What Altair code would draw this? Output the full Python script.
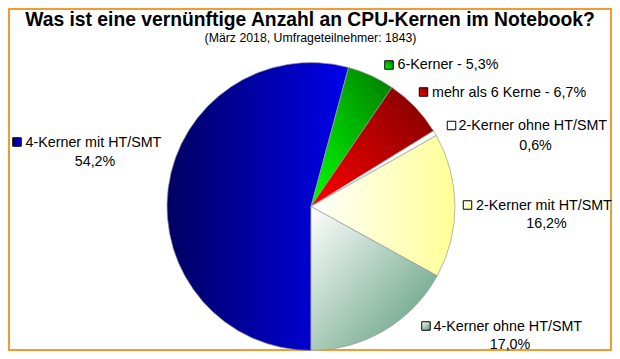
import math
import altair as alt
import pandas as pd

# ---- data ----
categories = [
    "4-Kerner mit HT/SMT",
    "6-Kerner",
    "mehr als 6 Kerne",
    "2-Kerner ohne HT/SMT",
    "2-Kerner mit HT/SMT",
    "4-Kerner ohne HT/SMT",
]
values = [54.2, 5.3, 6.7, 0.6, 16.2, 17.0]
single_line = ["6-Kerner", "mehr als 6 Kerne"]

title_text = "Was ist eine vernünftige Anzahl an CPU-Kernen im Notebook?"
subtitle_text = "(März 2018, Umfrageteilnehmer: 1843)"

df = pd.DataFrame({"cat": categories, "value": values})

# ---- styles ----
def lin(c0, c1, x1, y1, x2, y2):
    return {"gradient": "linear", "x1": x1, "y1": y1, "x2": x2, "y2": y2,
            "stops": [{"offset": 0, "color": c0}, {"offset": 1, "color": c1}]}

grads = {
    "4-Kerner mit HT/SMT": lin("#000062", "#0000EC", 0, 0, 1, 0),
    "6-Kerner": lin("#00FF00", "#007A00", 0, 1, 1, 0),
    "mehr als 6 Kerne": lin("#FF0000", "#7A0000", 0, 1, 1, 0),
    "2-Kerner ohne HT/SMT": lin("#FFFFFF", "#FFFFFF", 0, 0, 1, 0),
    "2-Kerner mit HT/SMT": lin("#FFFFFF", "#FFFF96", 0, 0, 1, 0),
    "4-Kerner ohne HT/SMT": lin("#FFFFFF", "#579877", 0, 0, 1, 1),
}

# label layout (chart pixel coords): square centre, text start, line y, 2nd line centre x / y
layout = {
    "4-Kerner mit HT/SMT": dict(sq=(9, 134), tx=17.5, ty=134.8, l2x=87, l2y=154.3),
    "6-Kerner": dict(sq=(381, 57), tx=389.5, ty=57.3),
    "mehr als 6 Kerne": dict(sq=(415.5, 84), tx=424, ty=84.8),
    "2-Kerner ohne HT/SMT": dict(sq=(443.5, 117.5), tx=450.5, ty=117.8, l2x=527.5, l2y=137.8),
    "2-Kerner mit HT/SMT": dict(sq=(459.5, 197), tx=468, ty=197.8, l2x=538.5, l2y=216.3),
    "4-Kerner ohne HT/SMT": dict(sq=(418, 318), tx=425.5, ty=318.8, l2x=502, l2y=336.8),
}

CX, CY, R = 303, 198.5, 144
FONT = "Liberation Sans"
FS = 14.3

theta_scale = alt.Scale(domain=[0, 100], range=[math.pi, 3 * math.pi])

base = alt.Chart(df).transform_window(
    cum="sum(value)", frame=[None, 0]
).transform_calculate(
    start="datum.cum - datum.value",
    pct="replace(format(datum.value, '.1f'), '.', ',') + '%'",
)

layers = []
for cat in categories:
    sub = base.transform_filter(alt.datum.cat == cat)
    layers.append(
        sub.mark_arc(outerRadius=R, fill=grads[cat], stroke="#9A9A9A", strokeWidth=0.7).encode(
            theta=alt.Theta("start:Q", scale=theta_scale, stack=None),
            theta2="cum:Q",
            x=alt.value(CX),
            y=alt.value(CY),
        )
    )

for cat in categories:
    sub = base.transform_filter(alt.datum.cat == cat)
    lay = layout[cat]
    layers.append(
        sub.mark_square(size=72, fill=grads[cat], stroke="black", strokeWidth=1, opacity=1).encode(
            x=alt.value(lay["sq"][0]), y=alt.value(lay["sq"][1])
        )
    )
    if cat in single_line:
        line1 = sub.transform_calculate(t="datum.cat + ' - ' + datum.pct")
    else:
        line1 = sub.transform_calculate(t="datum.cat")
    layers.append(
        line1.mark_text(align="left", baseline="middle", font=FONT, fontSize=FS, color="black").encode(
            text="t:N", x=alt.value(lay["tx"]), y=alt.value(lay["ty"])
        )
    )
    if cat not in single_line:
        layers.append(
            sub.mark_text(align="center", baseline="middle", font=FONT, fontSize=FS, color="black").encode(
                text="pct:N", x=alt.value(lay["l2x"]), y=alt.value(lay["l2y"])
            )
        )

title = alt.Chart(pd.DataFrame({"t": [title_text]})).mark_text(
    align="center", baseline="alphabetic", font=FONT, fontSize=19.3, fontWeight="bold", color="black"
).encode(text="t:N", x=alt.value(302), y=alt.value(18))

subtitle = alt.Chart(pd.DataFrame({"t": [subtitle_text]})).mark_text(
    align="center", baseline="middle", font=FONT, fontSize=12.3, color="black"
).encode(text="t:N", x=alt.value(302.5), y=alt.value(30.2))

chart = alt.layer(*layers, title, subtitle).properties(
    width=604, height=343, padding=0,
    autosize=alt.AutoSizeParams(type="none"),
).configure_view(stroke="#F39B32", strokeWidth=4)

chart.save("out.html", embed_options={"renderer": "svg", "actions": False})
